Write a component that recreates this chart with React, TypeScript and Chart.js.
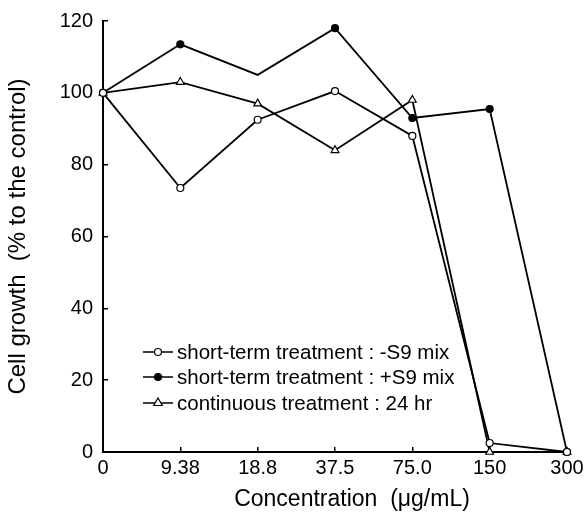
import React, { useEffect, useRef } from "react";
import { Chart, registerables } from "chart.js";

Chart.register(...registerables);

const concentrations = ["0", "9.38", "18.8", "37.5", "75.0", "150", "300"];
const minusS9 = [100, 73.5, 92.5, 100.5, 88, 2.5, 0];
const plusS9 = [100, 113.5, 105, 118, 93, 95.5, 0];
const continuous = [100, 103, 97, 84, 98, 0, 0];
const seriesLabels = [
  "short-term treatment : -S9 mix",
  "short-term treatment : +S9 mix",
  "continuous treatment : 24 hr",
];
const yTitle = "Cell growth  (% to the control)";
const xTitle = "Concentration  (\u03bcg/mL)";

const FONT = "'Liberation Sans', Arial, Helvetica, sans-serif";

type Marker = { style: "circle" | "triangle"; fill: string };
const markers: Marker[] = [
  { style: "circle", fill: "#ffffff" },
  { style: "circle", fill: "#000000" },
  { style: "triangle", fill: "#ffffff" },
];

function drawMarker(ctx: CanvasRenderingContext2D, m: Marker, x: number, y: number) {
  ctx.save();
  ctx.beginPath();
  if (m.style === "circle") {
    ctx.arc(x, y, 3.5, 0, Math.PI * 2);
  } else {
    const r = 5;
    ctx.moveTo(x, y - r);
    ctx.lineTo(x + r * 0.866, y + r * 0.5);
    ctx.lineTo(x - r * 0.866, y + r * 0.5);
    ctx.closePath();
  }
  ctx.fillStyle = m.fill;
  ctx.strokeStyle = "#000";
  ctx.lineWidth = 1.2;
  ctx.fill();
  ctx.stroke();
  ctx.restore();
}

const legendPlugin = {
  id: "insideLegend",
  afterDraw(chart: any) {
    const ctx: CanvasRenderingContext2D = chart.ctx;
    const x0 = 143;
    const rows = [352, 377, 403];
    ctx.save();
    ctx.font = `20.5px ${FONT}`;
    ctx.textBaseline = "middle";
    ctx.textAlign = "left";
    ctx.fillStyle = "#000";
    seriesLabels.forEach((label, i) => {
      const y = rows[i];
      ctx.beginPath();
      ctx.moveTo(x0, y);
      ctx.lineTo(x0 + 30, y);
      ctx.strokeStyle = "#000";
      ctx.lineWidth = 1.5;
      ctx.stroke();
      drawMarker(ctx, markers[i], x0 + 15, y);
      ctx.fillStyle = "#000";
      ctx.fillText(label, x0 + 34, y + 1);
    });
    // x-axis title
    ctx.font = `23px ${FONT}`;
    ctx.textAlign = "center";
    ctx.fillText(xTitle, 352, 500);
    ctx.restore();
  },
};

export default function App() {
  const ref = useRef<HTMLCanvasElement | null>(null);

  useEffect(() => {
    if (!ref.current) return;
    const ds = (data: number[], i: number, radius: any) => ({
      label: seriesLabels[i],
      data,
      borderColor: "#000",
      borderWidth: 1.8,
      pointStyle: markers[i].style,
      pointBackgroundColor: markers[i].fill,
      pointBorderColor: "#000",
      pointBorderWidth: 1.2,
      pointRadius: radius,
      tension: 0,
      clip: false as any,
    });
    const chart = new Chart(ref.current, {
      type: "line",
      data: {
        labels: concentrations,
        datasets: [
          ds(minusS9, 0, 3.5),
          ds(plusS9, 1, [3.5, 3.5, 0, 3.5, 3.5, 3.5, 3.5]),
          ds(continuous, 2, 4.5),
        ],
      },
      options: {
        animation: false,
        responsive: true,
        maintainAspectRatio: false,
        layout: { padding: { left: 0, right: 18, top: 21, bottom: 0 } },
        plugins: {
          legend: { display: false },
          tooltip: { enabled: false },
        },
        scales: {
          x: {
            type: "category",
            offset: false,
            ticks: {
              color: "#000",
              font: { family: FONT, size: 20 },
              padding: 9,
              autoSkip: false,
              maxRotation: 0,
            },
            grid: {
              offset: false,
              drawOnChartArea: false,
              drawTicks: true,
              tickLength: -5,
              color: "#000",
              lineWidth: 1.5,
            },
            border: { display: true, color: "#000", width: 2 },
            afterFit: (s: any) => {
              s.height = 67;
              s.paddingLeft = 0;
              s.paddingRight = 0;
            },
          },
          y: {
            min: 0,
            max: 120,
            ticks: {
              stepSize: 20,
              color: "#000",
              font: { family: FONT, size: 20 },
              padding: 15,
            },
            grid: {
              drawOnChartArea: false,
              drawTicks: true,
              tickLength: -5,
              color: "#000",
              lineWidth: 1.5,
            },
            border: { display: true, color: "#000", width: 2 },
            title: {
              display: true,
              text: yTitle,
              color: "#000",
              font: { family: FONT, size: 24 },
              padding: { top: 4, bottom: 0 },
            },
            afterFit: (s: any) => {
              s.width = 103;
              s.paddingTop = 0;
              s.paddingBottom = 0;
            },
          },
        },
      },
      plugins: [legendPlugin],
    });
    return () => chart.destroy();
  }, []);

  return (
    <div style={{ position: "fixed", left: 0, top: 0, width: 585, height: 519, background: "#fff" }}>
      <canvas ref={ref} />
    </div>
  );
}
